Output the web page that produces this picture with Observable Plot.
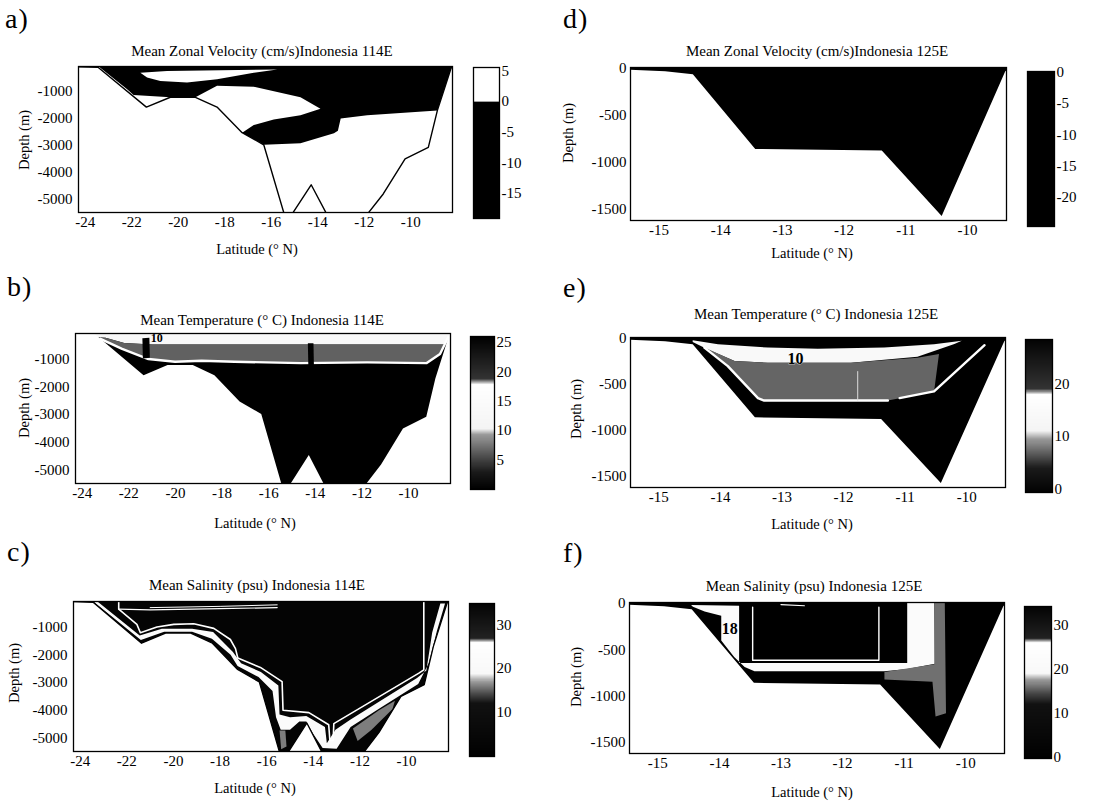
<!DOCTYPE html>
<html><head><meta charset="utf-8">
<script src="https://cdn.jsdelivr.net/npm/d3@7"></script>
<script src="https://cdn.jsdelivr.net/npm/@observablehq/plot@0.6"></script>
<style>
body{margin:0;background:#fff;}
#root{position:relative;width:1117px;height:804px;background:#fff;overflow:hidden;font-family:"Liberation Serif","Times New Roman",serif;}
</style></head><body><div id="root"></div>
<script>
// ---------- text ----------
const letters = ["a)","b)","c)","d)","e)","f)"];
const titles = ["Mean Zonal Velocity (cm/s)Indonesia 114E","Mean Temperature (° C) Indonesia 114E","Mean Salinity (psu) Indonesia 114E",
                "Mean Zonal Velocity (cm/s)Indonesia 125E","Mean Temperature (° C) Indonesia 125E","Mean Salinity (psu) Indonesia 125E"];
const xLabel = "Latitude (° N)";
const yLabel = "Depth (m)";

// ---------- axes ----------
const lat114Ticks = [-24,-22,-20,-18,-16,-14,-12,-10];
const depth114Ticks = [-1000,-2000,-3000,-4000,-5000];
const lat125Ticks = [-15,-14,-13,-12,-11,-10];
const depth125Ticks = [0,-500,-1000,-1500];
const lat114Domain = [-24.29,-8.2];
const depth114Domain = [-5480,-80];
const lat125Domain = [-15.46,-9.37];
const depth125Domain = [-1620,10];

// ---------- bathymetry [lat, depth] ----------
const bathy114 = [[-24.4,-85],[-23.45,-110],[-21.37,-1582],[-20.34,-1218],[-19.26,-1218],[-18.33,-1582],[-17.25,-2527],[-16.32,-2976],
  [-15.35,-5800],[-15.3,-5800],[-14.28,-4455],[-13.45,-5800],[-12.1,-5800],[-11.18,-4794],[-10.24,-3497],[-9.24,-3073],[-8.85,-1703],[-8.28,-188],[-8.22,-60]];
const bathy125 = [[-15.6,-10],[-14.9,-30],[-14.45,-62],[-13.44,-857],[-11.39,-875],[-10.42,-1571],[-9.39,-30],[-9.3,20]];

// ---------- a) zonal velocity 114E (cm/s) ----------
const velNeg114 = [[-23.45,-60],[-8.22,-60],[-8.28,-188],[-8.85,-1703],[-11.87,-1885],[-13.01,-2006],[-13.13,-2454],[-13.30,-2551],[-14.74,-2915],
  [-16.32,-2976],[-17.25,-2527],[-16.75,-2248],[-15.89,-2042],[-14.74,-1885],[-13.88,-1642],[-14.74,-1218],[-16.75,-830],[-18.33,-794],
  [-19.26,-1218],[-20.34,-1218],[-21.92,-1133],[-22.21,-915]];
const velNeg114Value = -10;
const velPos114 = [[-21.63,-309],[-20.48,-249],[-15.74,-188],[-16.75,-309],[-18.33,-551],[-19.62,-673],[-20.77,-612],[-21.34,-491]];
const velPos114Value = 2;

// ---------- b) temperature 114E (C) ----------
const temp114Base = 0;
const temp114Light = [[-24.5,-60],[-8.0,-60],[-8.2,-200],[-8.45,-480],[-21.0,-480],[-22.2,-420],[-23.0,-230],[-24.5,-160]];
const temp114LightValue = 13;
const temp114Gray = [[-24.5,-160],[-23.0,-230],[-22.2,-420],[-21.0,-480],[-8.45,-480],[-8.2,-200],[-8.30,-212],[-8.65,-818],[-9.22,-1145],
  [-11.78,-1121],[-14.62,-1145],[-17.46,-1097],[-18.88,-1061],[-20.02,-1097],[-21.16,-1000],[-22.29,-636],[-23.22,-273],[-24.5,-273]];
const temp114GrayValue = 6.6;
const temp114Blob1 = [[-21.42,-250],[-21.12,-230],[-21.1,-950],[-21.4,-980]];
const temp114Blob2 = [[-14.32,-430],[-14.08,-430],[-14.06,-1230],[-14.3,-1230]];
const temp114Contour = [[-23.22,-273],[-22.29,-636],[-21.16,-1000],[-20.02,-1097],[-18.88,-1061],[-17.46,-1097],[-14.62,-1145],[-11.78,-1121],
  [-9.22,-1145],[-8.65,-818],[-8.30,-212]];
const temp114Labels = [[-20.8,-260,"10"]];

// ---------- c) salinity 114E (psu) ----------
const sal114Base = 35;
const sal114Band = [[-23.25,-90],[-21.45,-1300],[-20.5,-1060],[-19.2,-1060],[-18.3,-1180],[-17.45,-1900],[-17.1,-2300],[-16.25,-2620],[-15.5,-3100],
  [-15.45,-4150],[-15.0,-4250],[-14.3,-4200],[-13.5,-4600],[-13.42,-5180],[-13.05,-4700],[-12.4,-4330],[-11.2,-3700],[-9.55,-2830],[-9.15,-2560],
  [-8.9,-1200],[-8.55,-150],
  [-8.35,-150],[-8.7,-1150],[-9.05,-2300],[-9.5,-3050],[-11.2,-3950],[-12.4,-4600],[-13.0,-5380],[-13.6,-5350],[-14.0,-4850],[-14.3,-4400],
  [-14.6,-4400],[-15.0,-4700],[-15.4,-4700],[-15.6,-4250],[-15.75,-3300],[-16.35,-2800],[-17.25,-2400],[-17.55,-2000],[-18.35,-1420],
  [-19.2,-1170],[-20.4,-1170],[-21.4,-1470],[-23.4,-110]];
const sal114BandValue = 22;
const sal114SpeckleR = [[-12.3,-4650],[-11.2,-4000],[-10.5,-3650],[-10.6,-3950],[-11.5,-4700],[-12.1,-5100]];
const sal114SpeckleL = [[-15.45,-4720],[-15.2,-4720],[-15.15,-5300],[-15.38,-5400]];
const sal114SpeckleValue = 16;
const sal114Contour = [[-22.35,-60],[-22.35,-358],[-21.57,-903],[-21.42,-1206],[-20.71,-1000],[-19.99,-903],[-19.13,-879],[-18.27,-1048],
  [-17.56,-1448],[-17.34,-1776],[-17.24,-2115],[-16.27,-2454],[-15.34,-2963],[-15.30,-3994],[-14.19,-4079],[-13.34,-4515],[-13.29,-5085],
  [-13.15,-5085],[-13.12,-4478],[-9.47,-2660],[-9.26,-2539],[-9.26,-60]];
const sal114Streak1 = [[-22.35,-358],[-21.0,-380],[-18.0,-340],[-15.55,-300]];
const sal114Streak2 = [[-21.0,-300],[-18.0,-255],[-15.55,-200]];

// ---------- d) zonal velocity 125E ----------
const vel125Base = -10;

// ---------- e) temperature 125E ----------
const temp125Base = -1;
const temp125White = [[-14.45,-20],[-14.04,-63],[-13.23,-100],[-12.42,-111],[-11.34,-100],[-10.53,-63],[-10.08,-25],[-10.2,-60],[-10.80,-200],
  [-11.88,-265],[-13.23,-265],[-13.77,-246],[-14.21,-118],[-14.45,-40]];
const temp125WhiteValue = 14.5;
const temp125Gray = [[-14.26,-100],[-13.77,-246],[-13.23,-265],[-11.88,-265],[-10.80,-210],[-10.45,-170],[-10.53,-576],[-11.09,-649],
  [-11.28,-675],[-13.29,-675],[-13.39,-649],[-13.88,-301]];
const temp125GrayValue = 7.2;
const temp125ContourL = [[-14.26,-100],[-13.88,-301],[-13.39,-649],[-13.29,-675],[-11.28,-675]];
const temp125ContourR = [[-11.09,-649],[-10.53,-576],[-9.71,-74]];
const temp125Streak = [[-11.77,-360],[-11.77,-670]];
const temp125Labels = [[-12.78,-225,"10"]];

// ---------- f) salinity 125E ----------
const sal125Base = 35;
const sal125White = [[-14.46,-18],[-13.68,-25],[-13.68,-643],[-10.95,-643],[-10.95,20],[-10.51,20],[-10.50,-650],[-10.95,-707],[-11.32,-732],
  [-13.43,-732],[-13.59,-686],[-13.76,-579],[-13.97,-400],[-13.97,-132],[-14.24,-86],[-14.43,-36]];
const sal125WhiteValue = 22;
const sal125Gray = [[-10.51,20],[-10.34,20],[-10.32,-1186],[-10.49,-1221],[-10.54,-846],[-11.32,-821],[-11.32,-739],[-10.51,-657]];
const sal125GrayValue = 16;
const sal125Contour = [[-13.46,-40],[-13.46,-614],[-11.41,-614],[-11.41,-40]];
const sal125ContourTop = [[-13.0,-12],[-12.62,-25]];
const sal125Labels = [[-13.83,-275,"18"]];

// ---------- colour maps (value stops -> grey) ----------
const velStops114 = [-20,-0.05,0.05,6];
const velGrays114 = ["#000","#000","#fff","#fff"];
const tempStops114 = [0,3,6,9.3,10.3,17.8,18.8,26];
const tempGrays = ["#000","#1a1a1a","#555","#999","#f4f4f4","#fff","#333","#000"];
const salStops114 = [-1,12,14,17,18.8,26,27,36];
const salGrays = ["#000","#111","#444","#999","#f8f8f8","#fff","#222","#000"];
const velStops125 = [-25,1];
const velGrays125 = ["#000","#000"];
const tempStops125 = [-1,4,6.5,9.5,11.1,18,19,29];
const salStops125 = [-1,12,14.4,17.5,19,26,27,35];

// ---------- colour bars ----------
const barDomains = [[-19.06,5.55],[0,26],[-0.25,35],[-24.6,0.1],[-0.6,28.4],[-0.4,34.3]];
const barTicks = [[5,0,-5,-10,-15],[25,20,15,10,5],[30,20,10],[0,-5,-10,-15,-20],[20,10,0],[30,20,10,0]];

// ---------- layout (pixels) ----------
const layout = [
  {frame:[78,66,452,212], bar:[473,67,499,218], letter:[5,28], title:[262,56], xlab:[257,254], ylab:[24,140], ypad:6, lab:16},
  {frame:[75,333,450,483], bar:[470,336,494,489], letter:[7,296], title:[262,325], xlab:[255,528], ylab:[24,408], ypad:6, lab:12},
  {frame:[73,601,448,751], bar:[469,603,494,756], letter:[7,561], title:[257,590], xlab:[255,793], ylab:[14,673], ypad:6, lab:16},
  {frame:[630,67,1006,220], bar:[1027,71,1054,226], letter:[563,28], title:[817,56], xlab:[812,258], ylab:[568,133], ypad:4, lab:16},
  {frame:[630,337,1005,487], bar:[1025,339,1052,492], letter:[563,297], title:[816,319], xlab:[812,529], ylab:[576,409], ypad:4, lab:16},
  {frame:[629,602,1004,753], bar:[1024,606,1051,758], letter:[563,562], title:[814,591], xlab:[812,797], ylab:[576,677], ypad:4, lab:16}
];

const panels = [
  {xd:lat114Domain, yd:depth114Domain, xt:lat114Ticks, yt:depth114Ticks, bathy:bathy114, stops:velStops114, grays:velGrays114, base:null,
   polys:[[velNeg114,velNeg114Value],[velPos114,velPos114Value]], lines:[[bathy114,"black",1.4]], labels:[]},
  {xd:lat114Domain, yd:depth114Domain, xt:lat114Ticks, yt:depth114Ticks, bathy:bathy114, stops:tempStops114, grays:tempGrays, base:temp114Base,
   polys:[[temp114Light,temp114LightValue],[temp114Gray,temp114GrayValue]], lines:[[temp114Contour,"white",2.4]],
   after:[[temp114Blob1,temp114Base],[temp114Blob2,temp114Base]], labels:temp114Labels},
  {xd:lat114Domain, yd:depth114Domain, xt:lat114Ticks, yt:depth114Ticks, bathy:bathy114, stops:salStops114, grays:salGrays, base:sal114Base,
   polys:[[sal114Band,sal114BandValue],[sal114SpeckleR,sal114SpeckleValue],[sal114SpeckleL,sal114SpeckleValue]],
   lines:[[sal114Contour,"white",1.6],[sal114Streak1,"white",1.2],[sal114Streak2,"white",1],[bathy114,"black",1.3]], labels:[]},
  {xd:lat125Domain, yd:depth125Domain, xt:lat125Ticks, yt:depth125Ticks, bathy:bathy125, stops:velStops125, grays:velGrays125, base:vel125Base,
   polys:[], lines:[], labels:[]},
  {xd:lat125Domain, yd:depth125Domain, xt:lat125Ticks, yt:depth125Ticks, bathy:bathy125, stops:tempStops125, grays:tempGrays, base:temp125Base,
   polys:[[temp125White,temp125WhiteValue],[temp125Gray,temp125GrayValue]],
   lines:[[temp125ContourL,"white",2.4],[temp125ContourR,"white",2.4],[temp125Streak,"#ddd",1]], labels:temp125Labels},
  {xd:lat125Domain, yd:depth125Domain, xt:lat125Ticks, yt:depth125Ticks, bathy:bathy125, stops:salStops125, grays:salGrays, base:sal125Base,
   polys:[[sal125White,sal125WhiteValue],[sal125Gray,sal125GrayValue]],
   lines:[[sal125Contour,"white",1.4],[sal125ContourTop,"white",1.2]], labels:sal125Labels}
];

// ---------- drawing ----------
const root = document.getElementById("root");
const FONT = "'Liberation Serif','Times New Roman',serif";
const ML = 70, MT = 8, MR = 8, MB = 30;
const X = d => d[0], Y = d => d[1];

function place(el, left, top) {
  el.style.position = "absolute"; el.style.left = left + "px"; el.style.top = top + "px";
  root.appendChild(el);
}
function polygon(pts, v) { return Plot.line(pts, {x: X, y: Y, fill: () => v, stroke: "none", clip: true}); }
function whiteMask(pts) { return Plot.line(pts, {x: X, y: Y, fill: "white", stroke: "none", clip: true}); }
function path(pts, stroke, w) { return Plot.line(pts, {x: X, y: Y, stroke, strokeWidth: w, strokeLinejoin: "round", clip: true}); }
function landOf(bathy, xd, yd) {
  const lo = yd[0] - 3000;
  return [[xd[0]-1, bathy[0][1]], ...bathy, [xd[1]+1, bathy[bathy.length-1][1]], [xd[1]+1, lo], [xd[0]-1, lo]];
}
function waterOf(xd, yd) {
  const hi = yd[1] + 300, lo = yd[0] - 3000;
  return [[xd[0]-1, hi], [xd[1]+1, hi], [xd[1]+1, lo], [xd[0]-1, lo]];
}
const baseStyle = {fontFamily: FONT, fontSize: "15px", color: "black", background: "transparent", overflow: "visible"};

panels.forEach((p, i) => {
  const L = layout[i];
  const [fx0, fy0, fx1, fy1] = L.frame;
  const marks = [];
  if (p.base != null) marks.push(polygon(waterOf(p.xd, p.yd), p.base));
  for (const [pts, v] of p.polys) marks.push(polygon(pts, v));
  marks.push(whiteMask(landOf(p.bathy, p.xd, p.yd)));
  for (const [pts, c, w] of p.lines) marks.push(path(pts, c, w));
  for (const [pts, v] of (p.after || [])) marks.push(polygon(pts, v));
  if (p.labels.length) marks.push(Plot.text(p.labels, {x: d => d[0], y: d => d[1], text: d => d[2], fontSize: L.lab, fontWeight: "bold", fill: "black", stroke: "white", strokeWidth: 0.5, clip: true}));
  marks.push(Plot.frame({stroke: "black", strokeWidth: 1.3}));
  const svg = Plot.plot({
    width: fx1 - fx0 + ML + MR, height: fy1 - fy0 + MT + MB,
    marginLeft: ML, marginRight: MR, marginTop: MT, marginBottom: MB,
    style: baseStyle,
    x: {domain: p.xd, ticks: p.xt, tickFormat: d => String(d), tickSize: 0, tickPadding: 4, label: null},
    y: {domain: p.yd, ticks: p.yt, tickFormat: d => String(d), tickSize: 0, tickPadding: L.ypad, label: null},
    color: {type: "linear", domain: p.stops, range: p.grays, interpolate: "rgb"},
    marks
  });
  place(svg, fx0 - ML, fy0 - MT);

  // colour bar
  const [bx0, by0, bx1, by1] = L.bar;
  const dom = barDomains[i];
  const bar = Plot.plot({
    width: bx1 - bx0 + 34, height: by1 - by0 + 16,
    marginLeft: 0, marginRight: 34, marginTop: 8, marginBottom: 8,
    style: baseStyle,
    x: {domain: [0, 1], axis: null},
    y: {domain: dom, axis: "right", ticks: barTicks[i], tickFormat: d => String(d), tickSize: 0, tickPadding: 2, label: null},
    color: {type: "linear", domain: p.stops, range: p.grays, interpolate: "rgb"},
    marks: [
      Plot.raster({x1: 0, x2: 1, y1: dom[0], y2: dom[1], width: 1, height: 300, fill: (x, y) => y, imageRendering: "pixelated"}),
      Plot.frame({stroke: "black", strokeWidth: 1.3})
    ]
  });
  place(bar, bx0, by0 - 8);
});

// ---------- text overlay ----------
const ov = d3.create("svg").attr("width", 1117).attr("height", 804)
  .style("position", "absolute").style("left", "0px").style("top", "0px").style("pointer-events", "none")
  .attr("font-family", FONT).attr("fill", "black");
layout.forEach((L, i) => {
  ov.append("text").attr("x", L.letter[0]).attr("y", L.letter[1]).attr("font-size", 28).attr("letter-spacing", 1).text(letters[i]);
  ov.append("text").attr("x", L.title[0]).attr("y", L.title[1]).attr("font-size", 15).attr("text-anchor", "middle").text(titles[i]);
  ov.append("text").attr("x", L.xlab[0]).attr("y", L.xlab[1]).attr("font-size", 14.5).attr("text-anchor", "middle").text(xLabel);
  ov.append("text").attr("transform", `translate(${L.ylab[0] + 5},${L.ylab[1]}) rotate(-90)`).attr("font-size", 14.5).attr("text-anchor", "middle").text(yLabel);
});
root.appendChild(ov.node());
</script>
</body></html>
